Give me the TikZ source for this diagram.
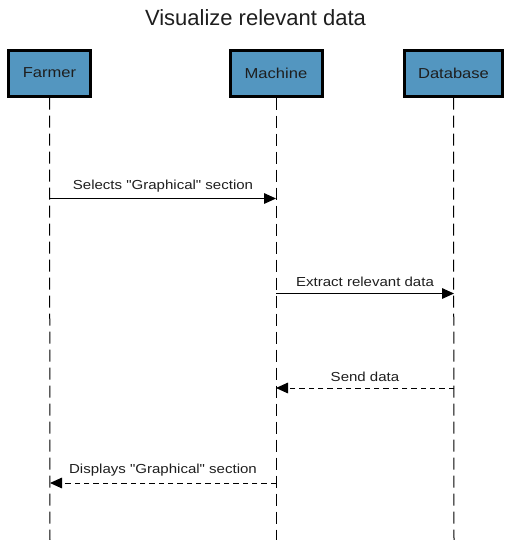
\documentclass[tikz,border=0pt]{standalone}
\usepackage{fontspec}
\setmainfont{Liberation Sans}
\newfontfamily\lblfont[FakeStretch=1.15]{Liberation Sans}
\usetikzlibrary{arrows.meta}
\definecolor{boxblue}{RGB}{83,150,192}
\definecolor{txt}{RGB}{30,30,30}
\begin{document}
\begin{tikzpicture}[x=0.75pt,y=-0.75pt,
  actor/.style={draw=black,line width=2.25pt,fill=boxblue,minimum height=34.5pt,inner sep=0pt,
     font=\lblfont\fontsize{10.8pt}{12pt}\selectfont,text=txt},
  life/.style={line width=0.75pt,dash pattern=on 9pt off 4.5pt},
  msg/.style={line width=0.75pt,-{Triangle[length=9pt,width=8pt]}},
  reply/.style={msg,dash pattern=on 4pt off 3pt},
  lbl/.style={font=\lblfont\fontsize{9.8pt}{11pt}\selectfont,text=txt,inner sep=0pt}]
\useasboundingbox (0,0) rectangle (511,540);
\node[font=\fontsize{16.5pt}{19pt}\selectfont,text=txt] (title) at (255.5,18) {Visualize relevant data};
\node[actor,minimum width=62pt] (farmer) at (49.5,73) {Farmer};
\node[actor,minimum width=69pt] (machine) at (276,73) {Machine};
\node[actor,minimum width=74pt] (db) at (453.5,73) {Database};
\coordinate (fe) at (50,540);
\coordinate (me) at (276,540);
\coordinate (de) at (454,540);
\draw[life] (farmer.south) -- (fe);
\draw[life] (machine.south) -- (me);
\draw[life] (db.south) -- (de);
\coordinate (f1) at (50,198.5);
\coordinate (m1) at (276,198.5);
\coordinate (m2) at (276,293.5);
\coordinate (d2) at (454,293.5);
\coordinate (d3) at (454,388);
\coordinate (m3) at (276,388);
\coordinate (m4) at (276,483);
\coordinate (f4) at (50,483);
\draw[msg] (f1) -- node[lbl,above=4.5pt] {Selects "Graphical" section} (m1);
\draw[msg] (m2) -- node[lbl,above=4.5pt] {Extract relevant data} (d2);
\draw[reply] (d3) -- node[lbl,above=4.5pt] {Send data} (m3);
\draw[reply] (m4) -- node[lbl,above=4.5pt] {Displays "Graphical" section} (f4);
\end{tikzpicture}
\end{document}
